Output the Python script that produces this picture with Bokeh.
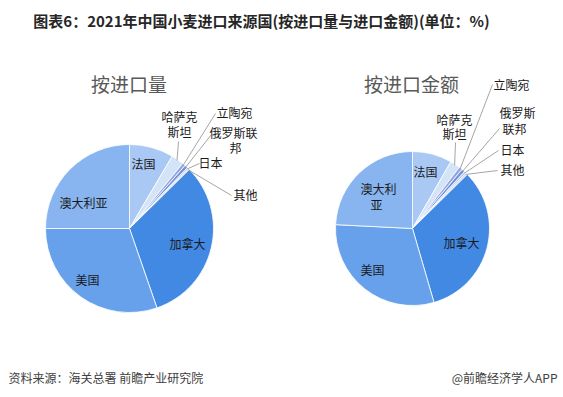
import math
from bokeh.plotting import figure
from bokeh.models import Range1d, ColumnDataSource
from bokeh.core.properties import value
from bokeh.embed import file_html
from bokeh.resources import INLINE

# ---------------- data ----------------
categories = ["法国", "哈萨克斯坦", "立陶宛", "俄罗斯联邦", "日本", "其他", "加拿大", "美国", "澳大利亚"]
volume_share = [8.5, 2.4, 0.6, 0.6, 0.3, 0.2, 32.1, 30.3, 25.0]
value_share = [8.3, 2.1, 0.7, 0.7, 0.4, 0.4, 32.9, 30.3, 24.2]
slice_colors = ["#a9c8f4", "#d3e3f8", "#8fa7e3", "#7690da", "#b0c2ee", "#c8d6f4", "#4289e4", "#67a0eb", "#88b4f0"]

title_text = "图表6：2021年中国小麦进口来源国(按进口量与进口金额)(单位：%)"
pie_titles = ["按进口量", "按进口金额"]
source_text = "资料来源：海关总署 前瞻产业研究院"
brand_text = "@前瞻经济学人APP"

FONT = "Noto Sans CJK SC"
W, H = 563, 397


def py(Y):
    return H - Y


def px(X):
    return X


p = figure(width=W, height=H, x_range=Range1d(0, W), y_range=Range1d(0, H),
           output_backend="svg", toolbar_location=None, min_border=0,
           x_axis_location=None, y_axis_location=None)
p.xgrid.visible = False
p.ygrid.visible = False
p.outline_line_color = None
p.background_fill_color = "white"
p.border_fill_color = "white"

# label layouts (page pixel coords): category -> list of (x, y, line text)
left_labels = {
    "法国": [(143, 163, "法国")],
    "哈萨克斯坦": [(179, 116, "哈萨克"), (179, 131, "斯坦")],
    "立陶宛": [(234, 112, "立陶宛")],
    "俄罗斯联邦": [(233, 132, "俄罗斯联"), (235, 147, "邦")],
    "日本": [(210, 162, "日本")],
    "其他": [(245, 194, "其他")],
    "加拿大": [(187, 243, "加拿大")],
    "美国": [(87, 279, "美国")],
    "澳大利亚": [(83, 202, "澳大利亚")],
}
left_leaders = {
    "哈萨克斯坦": (178, 141),
    "立陶宛": (215, 113),
    "俄罗斯联邦": (211, 134),
    "日本": (199, 163),
    "其他": (231, 195),
}
right_labels = {
    "法国": [(425, 171, "法国")],
    "哈萨克斯坦": [(454, 119, "哈萨克"), (454, 133, "斯坦")],
    "立陶宛": [(511, 84, "立陶宛")],
    "俄罗斯联邦": [(517, 112, "俄罗斯"), (514, 128, "联邦")],
    "日本": [(512, 149, "日本")],
    "其他": [(512, 169, "其他")],
    "加拿大": [(461, 242, "加拿大")],
    "美国": [(372, 269, "美国")],
    "澳大利亚": [(378, 188, "澳大利"), (376, 204, "亚")],
}
right_leaders = {
    "哈萨克斯坦": (455, 142),
    "立陶宛": (492, 84),
    "俄罗斯联邦": (499, 128),
    "日本": (498, 150),
    "其他": (497, 170),
}

pies = [
    dict(values=volume_share, cx=129, cy=228, r=84, title=pie_titles[0], tx=128.5, ty=83,
         labels=left_labels, leaders=left_leaders),
    dict(values=value_share, cx=412, cy=228, r=77, title=pie_titles[1], tx=411, ty=83,
         labels=right_labels, leaders=right_leaders),
]

for pie in pies:
    vals = pie["values"]
    total = sum(vals)
    starts, ends, mids = [], [], []
    cum = 0.0
    for v in vals:
        a0 = math.pi / 2 - 2 * math.pi * cum / total
        a1 = math.pi / 2 - 2 * math.pi * (cum + v) / total
        starts.append(a0)
        ends.append(a1)
        mids.append((a0 + a1) / 2)
        cum += v
    cx, cy, r = px(pie["cx"]), py(pie["cy"]), pie["r"]
    src = ColumnDataSource(dict(cat=categories, val=vals, start=starts, end=ends, color=slice_colors))
    p.wedge(x=cx, y=cy, radius=r, start_angle="start", end_angle="end", direction="clock",
            fill_color="color", line_color="white", line_width=0.8, source=src)

    # leader lines
    for cat, (lx, ly) in pie["leaders"].items():
        i = categories.index(cat)
        m = mids[i]
        ex = cx + (r - 1) * math.cos(m)
        ey = cy + (r - 1) * math.sin(m)
        p.line(x=[px(lx), ex], y=[py(ly), ey], line_color="#a6a6a6", line_width=1)

    # labels
    xs, ys, ts = [], [], []
    for cat in categories:
        for (lx, ly, t) in pie["labels"][cat]:
            xs.append(px(lx))
            ys.append(py(ly))
            ts.append(t)
    p.text(x=xs, y=ys, text=ts, text_font=value(FONT), text_font_size="12px",
           text_color="#1a1a1a", text_align="center", text_baseline="middle")

    # pie title
    p.text(x=[px(pie["tx"])], y=[py(pie["ty"])], text=[pie["title"]], text_font=value(FONT),
           text_font_size="19px", text_color="#595959", text_align="center", text_baseline="middle")

# main title
p.text(x=[px(261)], y=[py(20)], text=[title_text], text_font=value(FONT), text_font_size="15px",
       text_font_style="bold", text_color="#262626", text_align="center", text_baseline="middle")

# footer
p.text(x=[px(8)], y=[py(377)], text=[source_text], text_font=value(FONT), text_font_size="12px",
       text_color="#404040", text_align="left", text_baseline="middle")
p.text(x=[px(557)], y=[py(377)], text=[brand_text], text_font=value(FONT), text_font_size="12px",
       text_color="#404040", text_align="right", text_baseline="middle")

open("out.html", "w").write(file_html(p, INLINE))
